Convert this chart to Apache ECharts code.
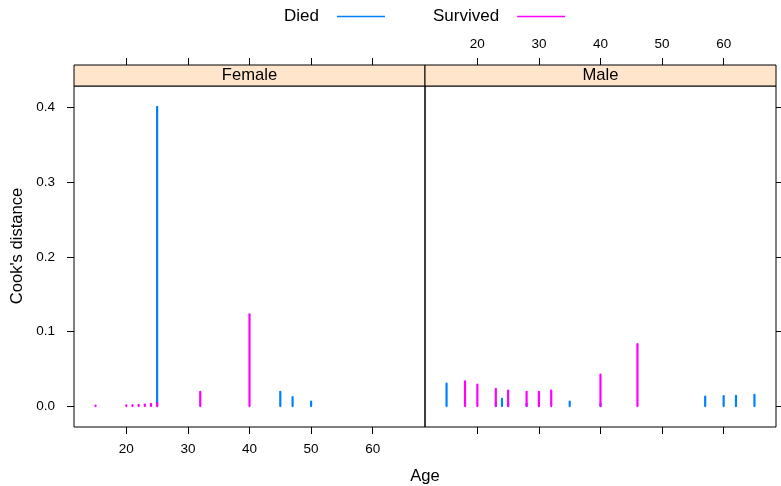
<!DOCTYPE html>
<html><head><meta charset="utf-8">
<script src="https://cdn.jsdelivr.net/npm/echarts@6/dist/echarts.min.js"></script>
<style>html,body{margin:0;padding:0;background:#fff}#c{width:781px;height:486px}</style>
</head><body><div id="c"></div>
<script>
// Female panel
var femaleDiedAge   = [25, 45, 47, 50];
var femaleDiedCook  = [0.401, 0.019, 0.012, 0.006];
var femaleSurvAge   = [15, 20, 21, 22, 23, 24, 25, 32, 40];
var femaleSurvCook  = [0.0006, 0.001, 0.0012, 0.0016, 0.002, 0.003, 0.004, 0.019, 0.123];
// Male panel
var maleDiedAge     = [15, 23, 24, 25, 28, 30, 35, 40, 57, 60, 62, 65];
var maleDiedCook    = [0.030, 0.004, 0.0096, 0.003, 0.003, 0.002, 0.006, 0.003, 0.0127, 0.0133, 0.0137, 0.015];
var maleSurvAge     = [18, 20, 23, 25, 28, 30, 32, 40, 46];
var maleSurvCook    = [0.033, 0.0287, 0.023, 0.0207, 0.019, 0.019, 0.0207, 0.042, 0.083];

var xTicks = [20, 30, 40, 50, 60];
var yTicks = [0, 0.1, 0.2, 0.3, 0.4];
var panels = ['Female', 'Male'];
var groups = ['Died', 'Survived'];
var colors = ['#0080ff', '#ff00ff'];

var FONT = 'Liberation Sans, Arial, Helvetica, sans-serif';
var xMin = 11.5, xMax = 68.5, yMin = -0.0281, yMax = 0.4291;
var G = [{left: 74, top: 86, width: 351, height: 341}, {left: 425, top: 86, width: 351, height: 341}];

function xAx(gi, pos, labels) {
  return {
    type: 'value', gridIndex: gi, position: pos, min: xMin, max: xMax,
    offset: pos === 'top' ? 21 : 0,
    axisLine: {show: false, onZero: false},
    splitLine: {show: false},
    axisTick: {show: true, length: 7, customValues: xTicks, lineStyle: {color: '#000', width: 1}},
    axisLabel: {show: labels, customValues: xTicks, margin: pos === 'top' ? 14 : 15,
      color: '#000', fontSize: 13.5, fontFamily: FONT}
  };
}
function yAx(gi, pos, labels) {
  return {
    type: 'value', gridIndex: gi, position: pos, min: yMin, max: yMax,
    axisLine: {show: false, onZero: false},
    splitLine: {show: false},
    axisTick: {show: true, length: 7, customValues: yTicks, lineStyle: {color: '#000', width: 1}},
    axisLabel: {show: labels, customValues: yTicks, margin: 19,
      formatter: function (v) { return v.toFixed(1); },
      color: '#000', fontSize: 13.5, fontFamily: FONT}
  };
}
function spikes(name, gi, ages, vals, color) {
  var data = ages.map(function (a, i) { return [a, vals[i]]; });
  return {
    type: 'custom', name: name, xAxisIndex: gi * 2, yAxisIndex: gi,
    itemStyle: {color: color},
    data: data,
    renderItem: function (params, api) {
      var p0 = api.coord([api.value(0), 0]);
      var p1 = api.coord([api.value(0), api.value(1)]);
      return {type: 'line', shape: {x1: p0[0], y1: p0[1], x2: p1[0], y2: p1[1]},
        style: {stroke: color, lineWidth: 2.2, lineCap: 'round'}};
    }
  };
}

var chart = echarts.init(document.getElementById('c'), null, {renderer: 'canvas'});
var strips = [];
panels.forEach(function (p, i) {
  strips.push({type: 'rect', shape: {x: G[i].left, y: 65, width: G[i].width, height: 21},
    style: {fill: '#ffe5cc', stroke: '#000', lineWidth: 1}, z: 10});
  strips.push({type: 'text', x: G[i].left + G[i].width / 2, y: 75.5,
    style: {text: p, fill: '#000', font: '16.6px ' + FONT, textAlign: 'center', textVerticalAlign: 'middle'}, z: 11});
});
strips.push({type: 'text', x: 425, y: 476, style: {text: 'Age', fill: '#000', font: '16.6px ' + FONT,
  textAlign: 'center', textVerticalAlign: 'middle'}});
strips.push({type: 'text', x: 17, y: 246, rotation: Math.PI / 2, style: {text: "Cook's distance", fill: '#000',
  font: '16.6px ' + FONT, textAlign: 'center', textVerticalAlign: 'middle'}});

function leg(name, left) {
  return {data: [name], left: left, top: 8, padding: 0, align: 'right', orient: 'horizontal',
    icon: 'rect', itemWidth: 48, itemHeight: 1.6, selectedMode: false,
    textStyle: {color: '#000', fontSize: 17, fontFamily: FONT, padding: [0, 13, 0, 0]}};
}

chart.setOption({
  animation: false,
  backgroundColor: '#fff',
  legend: [leg('Died', 284), leg('Survived', 433)],
  grid: G.map(function (g) { return Object.assign({show: true, borderColor: '#000', borderWidth: 1, backgroundColor: 'transparent'}, g); }),
  xAxis: [xAx(0, 'bottom', true), xAx(0, 'top', false), xAx(1, 'bottom', false), xAx(1, 'top', true)],
  yAxis: [yAx(0, 'left', true), yAx(1, 'right', false)],
  series: [
    spikes('Died', 0, femaleDiedAge, femaleDiedCook, colors[0]),
    spikes('Survived', 0, femaleSurvAge, femaleSurvCook, colors[1]),
    spikes('Died', 1, maleDiedAge, maleDiedCook, colors[0]),
    spikes('Survived', 1, maleSurvAge, maleSurvCook, colors[1])
  ],
  graphic: strips
});
</script></body></html>
